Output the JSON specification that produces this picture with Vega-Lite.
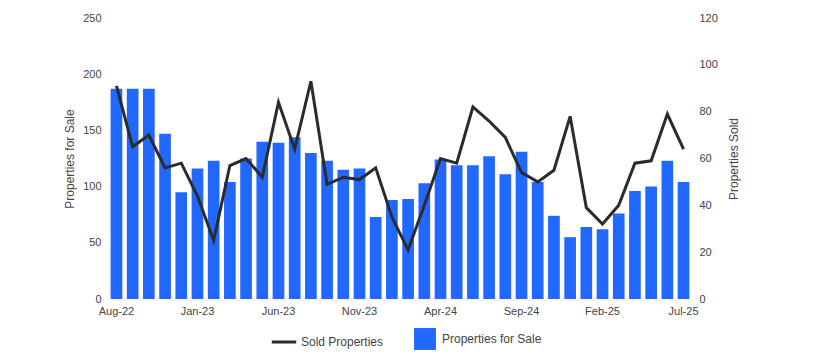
{
  "$schema": "https://vega.github.io/schema/vega-lite/v6.json",
  "width": 582,
  "height": 281,
  "autosize": {"type": "none"},
  "padding": {"left": 109, "top": 18, "right": 124, "bottom": 61},
  "background": "white",
  "config": {
    "view": {"stroke": null},
    "font": "Liberation Sans",
    "axis": {"labelFont": "Liberation Sans", "titleFont": "Liberation Sans", "labelColor": "#444444", "titleColor": "#444444", "labelFontSize": 11, "titleFontSize": 12, "titleFontWeight": "normal", "grid": false, "ticks": false, "domain": false},
    "legend": {"labelFont": "Liberation Sans", "labelFontSize": 12, "labelColor": "#444444"}
  },
  "data": {"values": [
    {"month": "Aug-22", "forSale": 187, "sold": 91},
    {"month": "Sep-22", "forSale": 187, "sold": 65},
    {"month": "Oct-22", "forSale": 187, "sold": 70},
    {"month": "Nov-22", "forSale": 147, "sold": 56},
    {"month": "Dec-22", "forSale": 95, "sold": 58},
    {"month": "Jan-23", "forSale": 116, "sold": 44},
    {"month": "Feb-23", "forSale": 123, "sold": 25},
    {"month": "Mar-23", "forSale": 104, "sold": 57},
    {"month": "Apr-23", "forSale": 125, "sold": 60},
    {"month": "May-23", "forSale": 140, "sold": 52},
    {"month": "Jun-23", "forSale": 139, "sold": 84},
    {"month": "Jul-23", "forSale": 144, "sold": 64},
    {"month": "Aug-23", "forSale": 130, "sold": 93},
    {"month": "Sep-23", "forSale": 123, "sold": 49},
    {"month": "Oct-23", "forSale": 115, "sold": 52},
    {"month": "Nov-23", "forSale": 116, "sold": 51},
    {"month": "Dec-23", "forSale": 73, "sold": 56},
    {"month": "Jan-24", "forSale": 88, "sold": 35},
    {"month": "Feb-24", "forSale": 89, "sold": 21},
    {"month": "Mar-24", "forSale": 103, "sold": 40},
    {"month": "Apr-24", "forSale": 124, "sold": 60},
    {"month": "May-24", "forSale": 119, "sold": 58},
    {"month": "Jun-24", "forSale": 119, "sold": 82},
    {"month": "Jul-24", "forSale": 127, "sold": 76},
    {"month": "Aug-24", "forSale": 111, "sold": 69},
    {"month": "Sep-24", "forSale": 131, "sold": 54},
    {"month": "Oct-24", "forSale": 104, "sold": 50},
    {"month": "Nov-24", "forSale": 74, "sold": 55},
    {"month": "Dec-24", "forSale": 55, "sold": 78},
    {"month": "Jan-25", "forSale": 64, "sold": 39},
    {"month": "Feb-25", "forSale": 62, "sold": 32},
    {"month": "Mar-25", "forSale": 76, "sold": 40},
    {"month": "Apr-25", "forSale": 96, "sold": 58},
    {"month": "May-25", "forSale": 100, "sold": 59},
    {"month": "Jun-25", "forSale": 123, "sold": 79},
    {"month": "Jul-25", "forSale": 104, "sold": 64}
  ]},
  "encoding": {
    "x": {"field": "month", "type": "nominal", "sort": null, "title": null,
      "scale": {"paddingInner": 0.28, "paddingOuter": 0.1},
      "axis": {"labelAngle": 0, "labelPadding": 6, "values": ["Aug-22", "Jan-23", "Jun-23", "Nov-23", "Apr-24", "Sep-24", "Feb-25", "Jul-25"]}}
  },
  "layer": [
    {
      "mark": {"type": "bar"},
      "encoding": {
        "y": {"field": "forSale", "type": "quantitative", "title": "Properties for Sale",
          "scale": {"domain": [0, 250], "nice": false},
          "axis": {"orient": "left", "values": [0, 50, 100, 150, 200, 250], "labelPadding": 8, "titlePadding": 6}},
        "fill": {"datum": "Properties for Sale", "type": "nominal",
          "scale": {"domain": ["Properties for Sale"], "range": ["#2068fe"]},
          "legend": {"title": null, "orient": "none", "legendX": 305, "legendY": 310, "symbolType": "square", "symbolSize": 480, "symbolStrokeWidth": 0, "labelOffset": 6}}
      }
    },
    {
      "mark": {"type": "line", "strokeWidth": 3},
      "encoding": {
        "y": {"field": "sold", "type": "quantitative", "title": "Properties Sold",
          "scale": {"domain": [0, 120], "nice": false},
          "axis": {"orient": "right", "values": [0, 20, 40, 60, 80, 100, 120], "labelPadding": 8, "titlePadding": 23, "titleAngle": 270}},
        "stroke": {"datum": "Sold Properties", "type": "nominal",
          "scale": {"domain": ["Sold Properties"], "range": ["#2b2b2b"]},
          "legend": {"title": null, "orient": "none", "legendX": 161, "legendY": 310, "symbolType": "stroke", "symbolSize": 600, "symbolStrokeWidth": 3, "labelOffset": 3}}
      }
    }
  ],
  "resolve": {"scale": {"y": "independent"}}
}
